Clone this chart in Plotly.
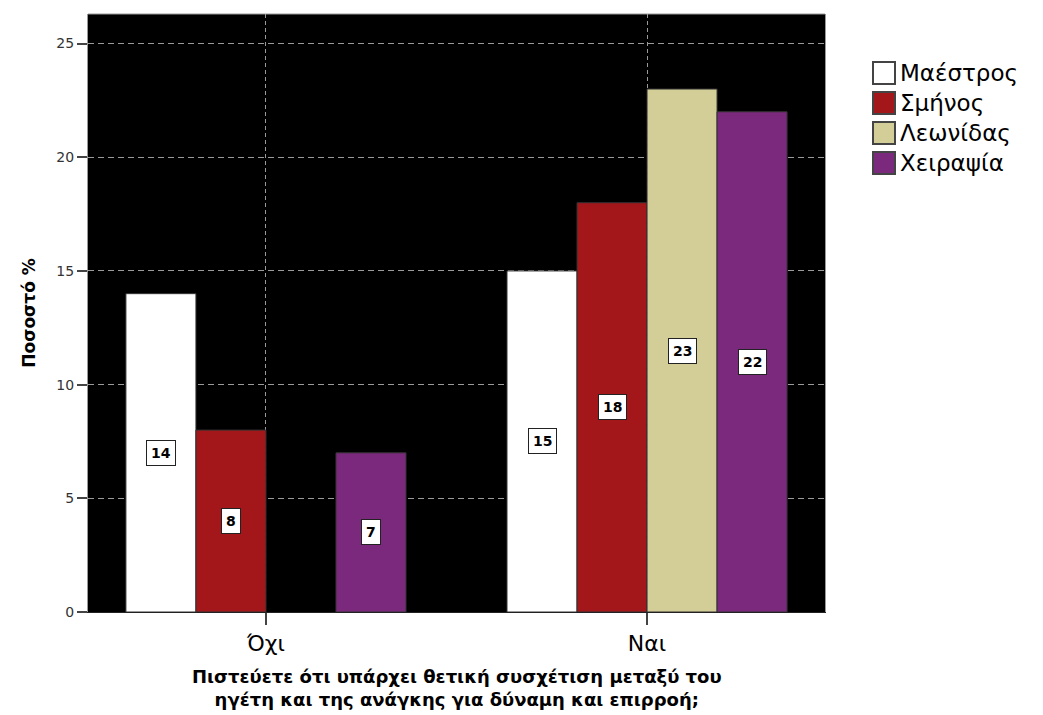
import plotly.graph_objects as go

# Survey answers (x categories) and the percentage per group
categories = ["Όχι", "Ναι"]
series_names = ["Μαέστρος", "Σμήνος", "Λεωνίδας", "Χειραψία"]
maestros = [14, 15]
sminos = [8, 18]
leonidas = [None, 23]
cheirapsia = [7, 22]
series_values = [maestros, sminos, leonidas, cheirapsia]
series_colors = ["#ffffff", "#a3171b", "#d3ce98", "#7b297c"]

y_ticks = [0, 5, 10, 15, 20, 25]
x_title_lines = ["Πιστεύετε ότι υπάρχει θετική συσχέτιση μεταξύ του",
                 "ηγέτη και της ανάγκης για δύναμη και επιρροή;"]
y_title = "Ποσοστό %"

FONT = "DejaVu Sans, Verdana, sans-serif"
W, H = 1043, 715
ML, MR, MT, MB = 88, 218, 14, 103
PW, PH = W - ML - MR, H - MT - MB
BARGAP = 0.265
n_series = len(series_names)
bar_w = (1 - BARGAP) / n_series


def px_to_paper(px, py):
    return (px - ML) / PW, (H - MB - py) / PH


fig = go.Figure()
for name, vals, col in zip(series_names, series_values, series_colors):
    fig.add_trace(go.Bar(
        name=name, x=categories, y=vals,
        marker=dict(color=col, line=dict(color="#333333", width=1)),
        showlegend=False,
    ))

# value boxes in the middle of each bar
annotations = []
for j, vals in enumerate(series_values):
    offset = (j - (n_series - 1) / 2) * bar_w
    for i, v in enumerate(vals):
        if v is None:
            continue
        annotations.append(dict(
            x=i + offset, y=v / 2, xref="x", yref="y",
            text=f"<b>{v}</b>", showarrow=False,
            font=dict(family=FONT, size=14, color="black"),
            bgcolor="white", bordercolor="#222222", borderwidth=1, borderpad=4,
        ))

# legend drawn as swatches + labels to the right of the plot
shapes = []
lx0, ly0, step, sw = 873, 62, 30, 22
for k, (name, col) in enumerate(zip(series_names, series_colors)):
    top = ly0 + k * step
    x0, y1 = px_to_paper(lx0, top)
    x1, y0 = px_to_paper(lx0 + sw, top + sw)
    shapes.append(dict(
        type="rect", xref="paper", yref="paper", x0=x0, x1=x1, y0=y0, y1=y1,
        fillcolor=col, line=dict(color="#444444", width=2),
    ))
    tx, ty = px_to_paper(lx0 + sw + 3, top + sw / 2)
    annotations.append(dict(
        x=tx, y=ty, xref="paper", yref="paper", xanchor="left", yanchor="middle",
        text=name, showarrow=False,
        font=dict(family=FONT, size=23, color="black"),
    ))

# x-axis title (two lines)
_, ty = px_to_paper(0, 688)
annotations.append(dict(
    x=0.5, y=ty, xref="paper", yref="paper", xanchor="center", yanchor="middle",
    text="<br>".join(f"<b>{ln}</b>" for ln in x_title_lines), showarrow=False,
    font=dict(family=FONT, size=18, color="black"),
))

# top border of the plot frame
shapes.append(dict(type="line", xref="paper", yref="paper", x0=0, x1=1, y0=1, y1=1,
                   line=dict(color="#999999", width=1)))

fig.update_layout(
    width=W, height=H,
    margin=dict(l=ML, r=MR, t=MT, b=MB),
    paper_bgcolor="white", plot_bgcolor="black",
    barmode="group", bargap=BARGAP, bargroupgap=0,
    font=dict(family=FONT, color="black"),
    annotations=annotations, shapes=shapes,
    showlegend=False,
)
fig.update_xaxes(
    range=[-0.467, 1.467],
    showgrid=True, gridcolor="#9a9a9a", griddash="4px,3px", gridwidth=1,
    showline=True, linecolor="#222222", linewidth=1,
    ticks="outside", ticklen=12, tickcolor="#444444", tickwidth=2,
    tickfont=dict(family=FONT, size=22, color="black"),
)
fig.update_yaxes(
    range=[0, 26.3], tickvals=y_ticks,
    showgrid=True, gridcolor="#9a9a9a", griddash="6px,4px", gridwidth=1,
    zeroline=False,
    showline=True, linecolor="#999999", linewidth=1, mirror=True,
    ticks="outside", ticklen=10, tickcolor="#444444", tickwidth=2,
    tickfont=dict(family=FONT, size=14, color="#333333"),
    title=dict(text=f"<b>{y_title}</b>", font=dict(family=FONT, size=17, color="black"), standoff=16),
)

fig.write_html("out.html")
